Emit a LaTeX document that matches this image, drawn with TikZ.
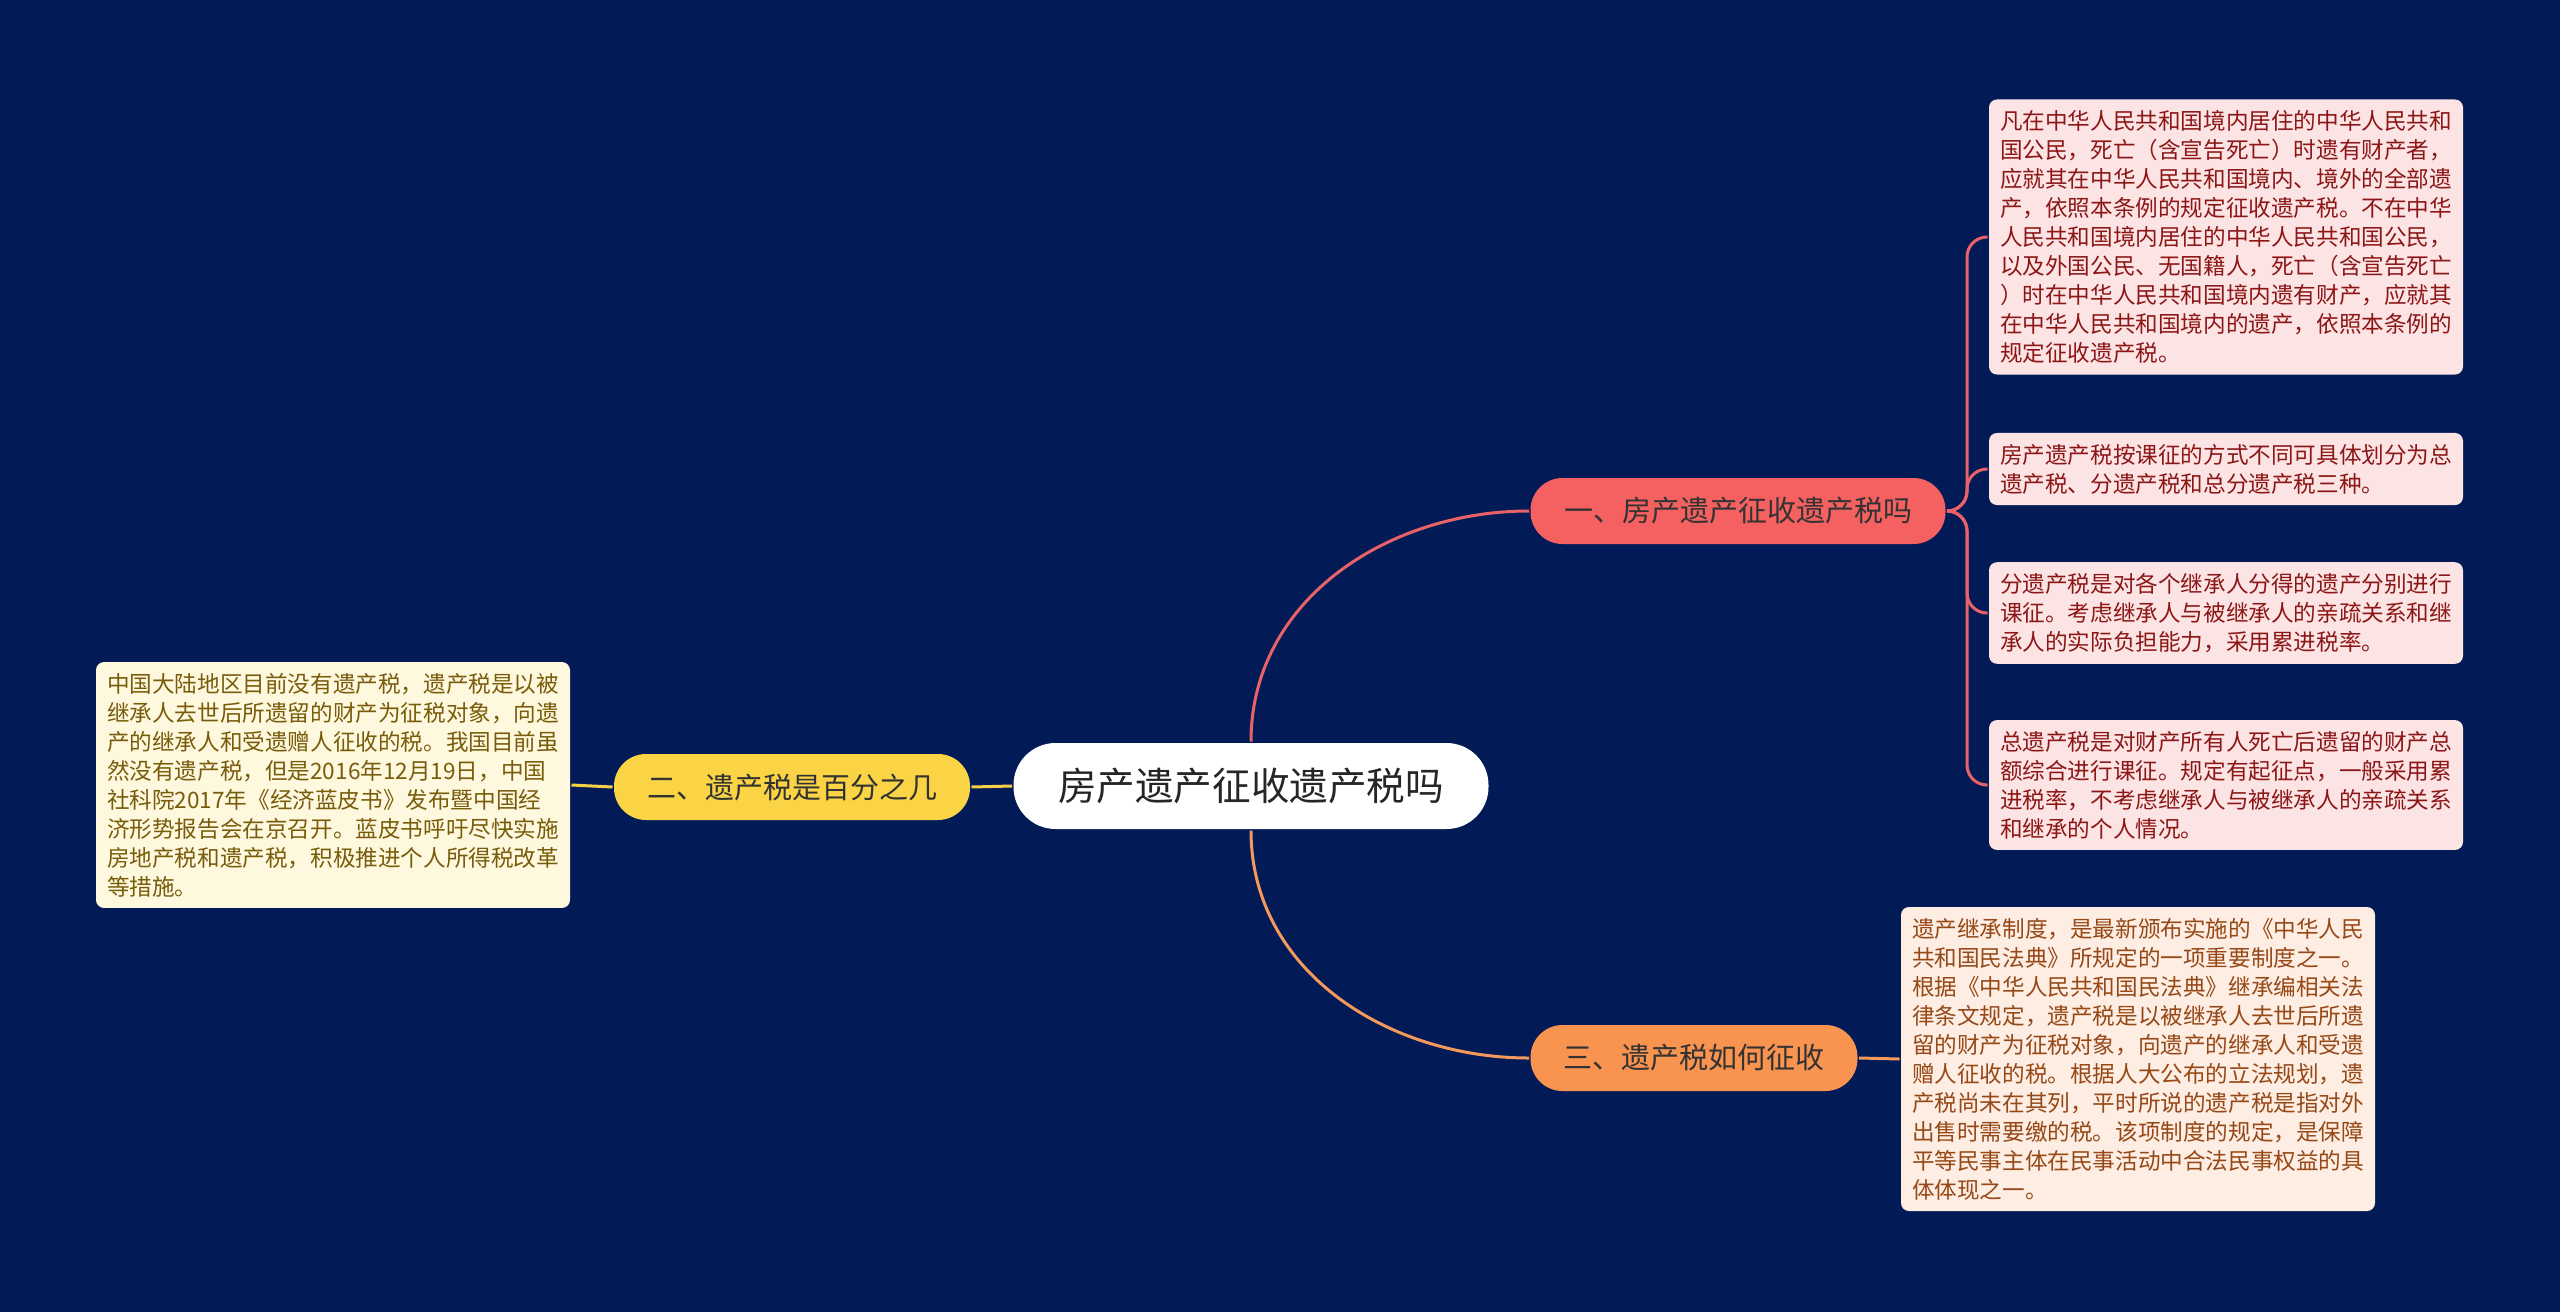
\documentclass[tikz,border=0pt]{standalone}
\usepackage{fontspec}
\setmainfont{Noto Sans CJK SC}
\usetikzlibrary{positioning}

\definecolor{bgblue}{RGB}{2,27,86}
\definecolor{redfill}{RGB}{245,96,96}
\definecolor{yelfill}{RGB}{250,212,68}
\definecolor{orgfill}{RGB}{248,147,80}
\definecolor{redline}{RGB}{232,98,104}
\definecolor{yelline}{RGB}{245,208,70}
\definecolor{orgline}{RGB}{245,152,92}
\definecolor{redleaf}{RGB}{252,228,228}
\definecolor{yelleaf}{RGB}{254,248,222}
\definecolor{orgleaf}{RGB}{253,237,227}
\definecolor{redtext}{RGB}{140,22,22}
\definecolor{yeltext}{RGB}{120,92,10}
\definecolor{orgtext}{RGB}{150,72,22}

\begin{document}
\begin{tikzpicture}[x=0.5pt,y=-0.5pt,line width=1.5pt,
        root/.style={fill=white,text=black!85,rounded corners=21pt,
            minimum width=237.5pt,minimum height=43pt,
            font=\fontsize{19.3pt}{22pt}\selectfont},
        branch/.style={rounded corners=16pt,minimum height=33pt,
            text=black!80,font=\fontsize{14.5pt}{17pt}\selectfont},
        leaf/.style={rounded corners=4pt,text width=226pt,align=left,
            inner xsep=5.5pt,inner ysep=5.5pt,
            font=\fontsize{11.3pt}{14.5pt}\selectfont},
        leafr/.style={leaf,fill=redleaf,text=redtext},
        leafy/.style={leaf,fill=yelleaf,text=yeltext},
        leafo/.style={leaf,fill=orgleaf,text=orgtext},
        cr/.style={draw=redline,rounded corners=10pt},
        cy/.style={draw=yelline},
        co/.style={draw=orgline}]

  \fill[bgblue] (0,0) rectangle (2560,1312);

  \node[root] (root) at (1251,786) {房产遗产征收遗产税吗};
  \node[branch,fill=redfill,minimum width=207.5pt] (b1) at (1738,511) {一、房产遗产征收遗产税吗};
  \node[branch,fill=yelfill,minimum width=178pt] (b2) at (792,787) {二、遗产税是百分之几};
  \node[branch,fill=orgfill,minimum width=163.5pt] (b3) at (1694,1058) {三、遗产税如何征收};

  \node[leafr] (l1a) at (2226,237) {凡在中华人民共和国境内居住的中华人民共和\\国公民，死亡（含宣告死亡）时遗有财产者，\\应就其在中华人民共和国境内、境外的全部遗\\产，依照本条例的规定征收遗产税。不在中华\\人民共和国境内居住的中华人民共和国公民，\\以及外国公民、无国籍人，死亡（含宣告死亡\\）时在中华人民共和国境内遗有财产，应就其\\在中华人民共和国境内的遗产，依照本条例的\\规定征收遗产税。};
  \node[leafr] (l1b) at (2226,469) {房产遗产税按课征的方式不同可具体划分为总\\遗产税、分遗产税和总分遗产税三种。};
  \node[leafr] (l1c) at (2226,613) {分遗产税是对各个继承人分得的遗产分别进行\\课征。考虑继承人与被继承人的亲疏关系和继\\承人的实际负担能力，采用累进税率。};
  \node[leafr] (l1d) at (2226,785) {总遗产税是对财产所有人死亡后遗留的财产总\\额综合进行课征。规定有起征点，一般采用累\\进税率，不考虑继承人与被继承人的亲疏关系\\和继承的个人情况。};

  \node[leafy] (l2) at (333,785) {中国大陆地区目前没有遗产税，遗产税是以被\\继承人去世后所遗留的财产为征税对象，向遗\\产的继承人和受遗赠人征收的税。我国目前虽\\然没有遗产税，但是2016年12月19日，中国\\社科院2017年《经济蓝皮书》发布暨中国经\\济形势报告会在京召开。蓝皮书呼吁尽快实施\\房地产税和遗产税，积极推进个人所得税改革\\等措施。};

  \node[leafo] (l3) at (2138,1059) {遗产继承制度，是最新颁布实施的《中华人民\\共和国民法典》所规定的一项重要制度之一。\\根据《中华人民共和国民法典》继承编相关法\\律条文规定，遗产税是以被继承人去世后所遗\\留的财产为征税对象，向遗产的继承人和受遗\\赠人征收的税。根据人大公布的立法规划，遗\\产税尚未在其列，平时所说的遗产税是指对外\\出售时需要缴的税。该项制度的规定，是保障\\平等民事主体在民事活动中合法民事权益的具\\体体现之一。};

  % main branches
  \draw[redline] (root.north) to[out=90,in=180] (b1.west);
  \draw[orgline] (root.south) to[out=-90,in=180] (b3.west);
  \draw[cy] (root.west) -- (b2.east);

  % leaves
  \draw[cr] (b1.east) -- ++(20,0) |- (l1a.west);
  \draw[cr] (b1.east) -- ++(20,0) |- (l1b.west);
  \draw[cr] (b1.east) -- ++(20,0) |- (l1c.west);
  \draw[cr] (b1.east) -- ++(20,0) |- (l1d.west);
  \draw[cy] (b2.west) -- (l2.east);
  \draw[co] (b3.east) -- (l3.west);

\end{tikzpicture}
\end{document}
